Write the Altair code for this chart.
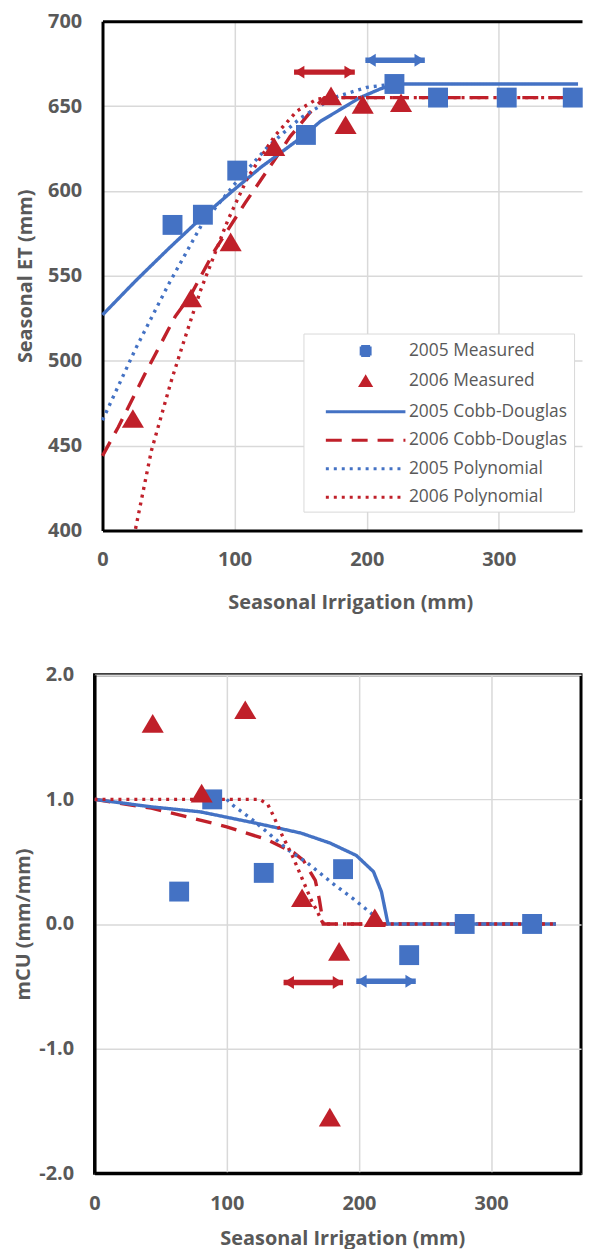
import altair as alt
import pandas as pd

BLUE = "#4472C4"
RED = "#C0202A"
GRID = "#D9D9D9"
TXT = "#595959"
FONT = "Open Sans"

SERIES = ["2005 Measured", "2006 Measured", "2005 Cobb-Douglas",
          "2006 Cobb-Douglas", "2005 Polynomial", "2006 Polynomial"]
SER_COLORS = [BLUE, RED, BLUE, RED, BLUE, RED]
SQ = "M-0.45,-0.45H0.45V0.45H-0.45Z"
TRI = "M0,-0.42L0.5,0.42L-0.5,0.42Z"
LN = "M-4,0H4"
SER_SHAPES = [SQ, TRI, LN, LN, LN, LN]
SER_DASH = [[1, 0], [1, 0], [1, 0], [16, 10], [3, 5], [3, 5]]

# ---------------- top chart: Seasonal ET ----------------
et_m05_x = [53, 76, 102, 154, 221, 254, 306, 356]
et_m05_y = [580, 586, 612, 633, 663, 655, 655, 655]
et_m06_x = [23, 67, 97, 130, 173, 184, 197, 226]
et_m06_y = [466, 537, 570, 626, 656, 639, 651, 652]

et_cd05_x = [0, 10, 25, 50, 76, 100, 120, 134, 153, 165, 180, 195, 210, 221, 360]
et_cd05_y = [527, 535, 547, 566, 585, 601, 614, 622, 633, 641, 648, 655, 660, 663, 663]
et_cd06_x = [0, 12, 32, 55, 67, 85, 108, 130, 142, 159, 168, 360]
et_cd06_y = [444, 461, 492, 526, 539, 565, 593, 618, 632, 648, 655, 655]
et_p05_x = [0, 25, 50, 75, 100, 125, 150, 175, 200, 220]
et_p05_y = [465, 507, 545, 580, 604, 626, 643, 655, 661, 663]
et_p06_x = [25, 37, 52, 61, 74, 95, 110, 130, 147, 162, 172, 360]
et_p06_y = [401, 447, 488, 510, 541, 583, 608, 632, 647, 654, 655, 655]

et_arrow_x = [145, 199]
et_arrow_x2 = [191, 244]
et_arrow_y = [670, 677]

# ---------------- bottom chart: mCU ----------------
cu_m05_x = [64, 89, 128, 188, 238, 280, 331]
cu_m05_y = [0.26, 1.00, 0.41, 0.44, -0.25, 0.0, 0.0]
cu_m06_x = [44, 81, 114, 157, 178, 185, 212]
cu_m06_y = [1.61, 1.05, 1.72, 0.21, -1.55, -0.22, 0.05]

cu_cd05_x = [0, 43, 80, 126, 156, 178, 198, 211, 217, 222, 349]
cu_cd05_y = [1.0, 0.94, 0.90, 0.80, 0.73, 0.65, 0.55, 0.42, 0.26, 0.0, 0.0]
cu_cd06_x = [0, 43, 70, 100, 131, 151, 158, 167, 170, 173, 349]
cu_cd06_y = [1.0, 0.93, 0.86, 0.78, 0.675, 0.57, 0.51, 0.35, 0.20, 0.0, 0.0]
cu_p05_x = [100, 105, 119, 133, 147, 161, 182, 196, 211, 218]
cu_p05_y = [1.0, 0.95, 0.84, 0.715, 0.59, 0.49, 0.31, 0.20, 0.07, 0.0]
cu_p06_x = [0, 125, 131, 135, 142, 150, 157, 164, 168, 173, 350]
cu_p06_y = [1.0, 1.0, 0.96, 0.875, 0.71, 0.54, 0.365, 0.19, 0.11, 0.0, 0.0]

cu_arrow_x = [143, 198]
cu_arrow_x2 = [188, 243]
cu_arrow_y = [-0.47, -0.46]

ARROW_COLORS = [RED, BLUE]
HEAD_L = "M0,0L1.6,-1L1.6,1Z"
HEAD_R = "M0,0L-1.6,-1L-1.6,1Z"


def frame(pairs):
    rows = []
    for name, xs, ys in pairs:
        for i, (a, b) in enumerate(zip(xs, ys)):
            rows.append({"series": name, "x": a, "y": b, "i": i})
    return pd.DataFrame(rows)


def scales():
    return dict(
        fill=alt.Scale(domain=SERIES, range=SER_COLORS),
        stroke=alt.Scale(domain=SERIES, range=SER_COLORS),
        shape=alt.Scale(domain=SERIES, range=SER_SHAPES),
        dash=alt.Scale(domain=SERIES, range=SER_DASH),
    )


def panel(pts, lines, arrows, xdom, xrange, ydom, yvals, xtitle, ytitle, w, h,
          legend, ylabel_expr=None, ytitle_pad=11, ylab_pad=21, xlab_pad=24,
          xtitle_pad=19, yoffset=0, xtitle_x=None, top_border=None):
    sc = scales()
    xargs = dict(values=[0, 100, 200, 300], title=xtitle, labelFlush=False,
                 ticks=False, tickSize=0, labelPadding=xlab_pad, titlePadding=xtitle_pad,
                 gridColor=GRID, gridWidth=1.5, domainColor="black", domainWidth=3)
    if xtitle_x is not None:
        xargs["titleX"] = xtitle_x
    xaxis = alt.Axis(**xargs)
    yargs = dict(values=yvals, title=ytitle, labelFlush=False, ticks=False, tickSize=0,
                 labelPadding=ylab_pad, titlePadding=ytitle_pad, offset=yoffset,
                 domainColor="black", domainWidth=3, gridWidth=1.5, gridColor=GRID)
    if top_border is not None:
        yargs["gridColor"] = {"condition": {"test": f"datum.value === {top_border}", "value": "black"},
                              "value": GRID}
        yargs["gridWidth"] = {"condition": {"test": f"datum.value === {top_border}", "value": 3},
                              "value": 1.5}
    if ylabel_expr:
        yargs["labelExpr"] = ylabel_expr
    yaxis = alt.Axis(**yargs)
    xs = alt.Scale(domain=xdom, range=xrange, nice=False, zero=False)
    ys = alt.Scale(domain=ydom, nice=False, zero=False)
    X = alt.X("x:Q", scale=xs, axis=xaxis)
    Y = alt.Y("y:Q", scale=ys, axis=yaxis)
    Xn = alt.X("x:Q", scale=xs)
    Yn = alt.Y("y:Q", scale=ys)

    lk = dict(legend=legend) if legend is not None else dict(legend=None)

    line_layer = alt.Chart(lines).mark_line(strokeWidth=3.4, clip=True).encode(
        x=X, y=Y,
        stroke=alt.Stroke("series:N", scale=sc["stroke"], **lk),
        strokeDash=alt.StrokeDash("series:N", scale=sc["dash"], **lk),
        order="i:Q",
    )
    pt_layer = alt.Chart(pts).mark_point(filled=True, size=1975, opacity=1).encode(
        x=Xn, y=Yn,
        fill=alt.Fill("series:N", scale=sc["fill"], **lk),
        shape=alt.Shape("series:N", scale=sc["shape"], **lk),
    )
    rule = alt.Chart(arrows).mark_rule(strokeWidth=5.5).encode(
        x=Xn, x2="x2:Q", y=Yn, color=alt.Color("c:N", scale=None))
    hl = alt.Chart(arrows).mark_point(shape=HEAD_L, filled=True, size=169, opacity=1).encode(
        x=Xn, y=Yn, color=alt.Color("c:N", scale=None))
    hr = alt.Chart(arrows).mark_point(shape=HEAD_R, filled=True, size=169, opacity=1).encode(
        x=alt.X("x2:Q", scale=xs), y=Yn,
        color=alt.Color("c:N", scale=None))
    return alt.layer(line_layer, pt_layer, rule, hl, hr).properties(width=w, height=h)


et_pts = frame([("2005 Measured", et_m05_x, et_m05_y), ("2006 Measured", et_m06_x, et_m06_y)])
et_lines = frame([("2006 Cobb-Douglas", et_cd06_x, et_cd06_y),
                  ("2005 Cobb-Douglas", et_cd05_x, et_cd05_y),
                  ("2005 Polynomial", et_p05_x, et_p05_y),
                  ("2006 Polynomial", et_p06_x, et_p06_y)])
et_arrows = pd.DataFrame({"x": et_arrow_x, "x2": et_arrow_x2, "y": et_arrow_y, "c": ARROW_COLORS})

cu_pts = frame([("2005 Measured", cu_m05_x, cu_m05_y), ("2006 Measured", cu_m06_x, cu_m06_y)])
cu_lines = frame([("2006 Cobb-Douglas", cu_cd06_x, cu_cd06_y),
                  ("2005 Cobb-Douglas", cu_cd05_x, cu_cd05_y),
                  ("2005 Polynomial", cu_p05_x, cu_p05_y),
                  ("2006 Polynomial", cu_p06_x, cu_p06_y)])
cu_arrows = pd.DataFrame({"x": cu_arrow_x, "x2": cu_arrow_x2, "y": cu_arrow_y, "c": ARROW_COLORS})

legend = alt.Legend(orient="none", legendX=210, legendY=314, title=None,
                    labelFont=FONT, labelFontSize=17.5, labelColor=TXT, labelLimit=200,
                    symbolSize=400, symbolStrokeWidth=3, fillColor="white",
                    strokeColor=GRID, padding=6, rowPadding=8.6, labelOffset=32,
                    symbolOffset=45)

# top panel: group starts 8px left of its y axis (so both panels share one origin)
top = panel(et_pts, et_lines, et_arrows, [0, 363], [8, 490], [400, 700],
            [400, 450, 500, 550, 600, 650, 700],
            "Seasonal Irrigation (mm)", "Seasonal ET (mm)", 490, 512, legend,
            ytitle_pad=12, ylab_pad=21, xlab_pad=19, xtitle_pad=23, yoffset=-8,
            xtitle_x=257, top_border=700)

bottom = panel(cu_pts, cu_lines, cu_arrows, [0, 368], [0, 489], [-2, 2], [-2, -1, 0, 1, 2],
               "Seasonal Irrigation (mm)", "mCU (mm/mm)", 489, 501, None,
               ylabel_expr="(datum.value < 0 ? '-' : '') + format(abs(datum.value), '.1f')",
               ytitle_pad=5, ylab_pad=21, xlab_pad=21, xtitle_pad=15,
               xtitle_x=249).properties(
    view=alt.ViewBackground(stroke="black", strokeWidth=3))

chart = alt.concat(top, bottom, columns=1, spacing=50).resolve_scale(
    fill="independent", stroke="independent", shape="independent", strokeDash="independent"
).resolve_legend(
    fill="independent", stroke="independent", shape="independent", strokeDash="independent"
).properties(
    padding={"left": 4, "top": -1, "right": 0, "bottom": 0}
).configure_view(stroke="transparent").configure_axis(
    labelFont=FONT, labelFontSize=20, labelFontWeight="bold", labelColor=TXT,
    titleFont=FONT, titleFontSize=20, titleFontWeight="bold", titleColor=TXT,
)

chart.save("out.html", embed_options={"renderer": "svg", "actions": False})
